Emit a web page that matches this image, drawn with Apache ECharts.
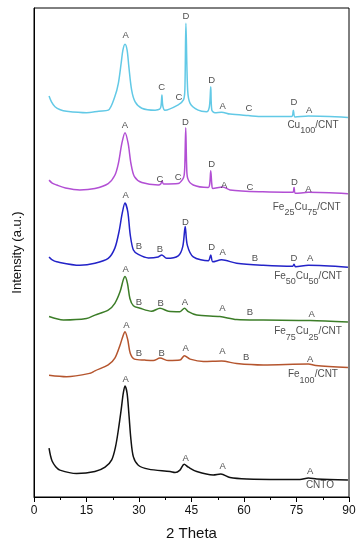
<!DOCTYPE html>
<html>
<head>
<meta charset="utf-8">
<script src="https://cdn.jsdelivr.net/npm/echarts@6/dist/echarts.min.js"></script>
<style>
html,body{margin:0;padding:0;background:#fff;}
#c{width:364px;height:550px;}
</style>
</head>
<body>
<div id="c"></div>
<script>
// ---- data (2θ in degrees, intensity in arbitrary units, curves offset as in the figure) ----
const cu100 = [[4.3,82.0],[5.0,80.8],[6.0,79.8],[7.5,79.2],[9.3,78.9],[15,78.6],[18.5,78.9],[21.2,79.1],[23.1,81.9],[24.1,84.6],[24.9,88.7],[25.4,91.4],[26.0,92.6],[26.6,91.4],[27.1,88.0],[27.9,83.2],[28.9,80.8],[30.8,79.5],[34.6,79.1],[35.9,79.3],[36.3,80.0],[36.55,82.2],[36.8,80.0],[37.4,79.1],[41.2,80.2],[42.7,81.2],[43.1,83.2],[43.4,96.9],[43.9,83.2],[44.6,80.5],[46.9,79.1],[49.3,78.8],[50.1,79.8],[50.5,83.9],[50.8,79.1],[51.7,78.6],[53.6,78.7],[56,78.3],[61.2,78.0],[65.4,77.8],[73.6,77.8],[74.1,79.1],[74.6,77.7],[78.4,77.9],[89.7,77.6]];
const fe25cu75 = [[4.3,64.8],[5.2,64.2],[6.5,63.8],[9,63.2],[13.1,62.8],[17.4,63.1],[21.2,64.1],[23.1,65.8],[24.1,68.2],[25.1,72.3],[26.0,74.5],[26.9,72.3],[27.7,68.2],[28.7,65.5],[30.8,64.3],[35.5,63.8],[36.2,64.0],[36.6,64.6],[37.0,64.0],[41.2,64.1],[42.5,65.0],[42.9,65.8],[43.1,68.0],[43.35,75.5],[43.6,68.0],[43.9,65.2],[45.5,63.8],[49.8,63.3],[50.2,64.0],[50.5,66.7],[50.8,64.0],[51.1,63.1],[53.9,63.4],[56,62.8],[65.4,62.4],[73.9,62.3],[74.3,63.3],[74.7,62.1],[78.4,62.3],[89.7,62.0]];
const fe50cu50 = [[4.3,49.1],[5.2,48.5],[6.5,48.1],[13.1,47.4],[17.4,47.8],[21.2,48.8],[23.1,50.9],[24.3,54.3],[25.2,58.0],[26.0,60.1],[26.8,58.3],[27.5,53.6],[28.4,50.5],[29.8,49.6],[32.7,48.9],[35.5,49.1],[36.5,49.5],[37.9,48.8],[41.2,49.3],[42.5,51.2],[43.2,55.3],[43.8,51.5],[45.5,49.1],[49.8,48.3],[50.5,49.5],[51.1,48.1],[53.6,48.5],[57.9,47.8],[65.5,47.4],[73.9,47.2],[74.3,47.6],[74.7,47.1],[78.4,47.4],[89.7,47.0]];
const fe75cu25 = [[4.3,36.9],[8.4,36.2],[15,36.5],[17.4,37.2],[21.2,38.2],[23.1,39.6],[24.6,42.0],[25.5,44.4],[26.0,45.1],[26.7,43.7],[27.4,40.6],[28.4,39.1],[30.3,38.6],[33.6,38.0],[36.0,38.6],[38.4,38.0],[41.7,37.9],[43.0,38.6],[44.1,37.9],[46.5,37.2],[53.1,36.9],[57.9,36.3],[65.5,36.2],[78.9,36.1],[89.7,35.8]];
const fe100 = [[4.3,24.9],[9.3,24.6],[16.0,25.3],[17.4,25.8],[21.2,27.0],[23.1,28.4],[24.6,31.1],[25.5,33.1],[26.0,33.8],[26.8,32.1],[27.5,29.4],[28.7,28.2],[31.7,28.0],[34.1,27.9],[36.0,28.4],[38.4,27.9],[41.7,28.0],[43.0,28.9],[44.6,28.2],[48.4,27.7],[53.6,27.8],[57.9,27.3],[65.5,27.0],[78.4,27.2],[80.5,26.9],[89.7,26.5]];
const cnto = [[4.3,10.0],[4.7,8.5],[5.2,7.3],[6.2,6.2],[7.4,5.5],[12.2,4.8],[17.4,5.2],[20.3,6.1],[22.2,7.6],[23.3,10.3],[24.1,13.7],[24.9,17.8],[25.5,21.2],[26.0,22.7],[26.6,21.2],[27.1,17.1],[27.7,11.7],[28.4,8.2],[29.8,6.5],[32.7,5.7],[38.9,5.2],[40.3,5.0],[41.7,5.5],[42.9,6.7],[44.1,6.1],[46.5,5.2],[51.2,4.5],[53.4,4.7],[56.0,4.0],[60.8,3.7],[70.3,3.6],[76.0,3.6],[78.4,3.9],[80.8,3.7],[89.7,3.5]];

// peak phase markers [2θ, intensity, letter]
const peaksCu100 = [[26.2,94.3,'A'],[36.5,83.8,'C'],[41.4,81.8,'C'],[43.4,98.2,'D'],[50.8,85.3,'D'],[53.9,79.8,'A'],[61.4,79.4,'C'],[74.3,80.6,'D'],[78.6,79.1,'A']];
const peaksFe25 = [[26.0,75.9,'A'],[36.0,65.0,'C'],[41.2,65.3,'C'],[43.3,76.6,'D'],[50.8,68.1,'D'],[54.3,63.8,'A'],[61.7,63.3,'C'],[74.4,64.4,'D'],[78.4,63.0,'A']];
const peaksFe50 = [[26.2,61.6,'A'],[30.0,51.2,'B'],[36.0,50.7,'B'],[43.3,56.2,'D'],[50.8,51.1,'D'],[53.9,50.0,'A'],[63.1,48.9,'B'],[74.3,48.9,'D'],[78.9,48.9,'A']];
const peaksFe75 = [[26.2,46.6,'A'],[30.0,39.7,'B'],[36.2,39.5,'B'],[43.1,39.7,'A'],[53.8,38.6,'A'],[61.7,37.8,'B'],[79.3,37.4,'A']];
const peaksFe100 = [[26.4,35.0,'A'],[30.0,29.4,'B'],[36.5,29.4,'B'],[43.3,30.4,'A'],[53.8,29.7,'A'],[60.6,28.5,'B'],[78.9,28.2,'A']];
const peaksCnto = [[26.2,24.1,'A'],[43.3,7.9,'A'],[53.9,6.3,'A'],[78.9,5.2,'A']];

// sample names [2θ, intensity, rich text]
const sampleNames = [
  [79.7,75.5,'{n|Cu}{s|100}{n|/CNT}'],
  [77.9,58.7,'{n|Fe}{s|25}{n|Cu}{s|75}{n|/CNT}'],
  [78.3,44.6,'{n|Fe}{s|50}{n|Cu}{s|50}{n|/CNT}'],
  [78.3,33.3,'{n|Fe}{s|75}{n|Cu}{s|25}{n|/CNT}'],
  [79.7,24.5,'{n|Fe}{s|100}{n|/CNT}'],
  [81.7,1.8,'{n|CNTO}']
];

const xTicks = [0,15,30,45,60,75,90];

const colors = ['#62c9e6','#b24fd4','#2323c8','#3c7d28','#b5552e','#111111'];
const curves = [cu100, fe25cu75, fe50cu50, fe75cu25, fe100, cnto];
const peakSets = [peaksCu100, peaksFe25, peaksFe50, peaksFe75, peaksFe100, peaksCnto];

const font = 'Liberation Sans, Arial, sans-serif';
const series = [];
curves.forEach((d, i) => {
  series.push({
    type: 'line', data: d, showSymbol: false, smooth: 0.3,
    lineStyle: {color: colors[i], width: 1.5}, z: 3, silent: true
  });
});
series.push({
  type: 'scatter', symbolSize: 0, z: 5, silent: true,
  data: peakSets.flat(),
  label: {show: true, position: 'inside', formatter: p => p.data[2], color: '#222', fontSize: 9.5, fontFamily: font}
});
series.push({
  type: 'scatter', symbolSize: 0, z: 5, silent: true,
  data: sampleNames,
  label: {show: true, position: 'inside', formatter: p => p.data[2], color: '#222',
    rich: {
      n: {fontSize: 10, fontFamily: font, color: '#222', lineHeight: 15, verticalAlign: 'top'},
      s: {fontSize: 9, fontFamily: font, color: '#222', lineHeight: 15, verticalAlign: 'bottom'}
    }}
});

const chart = echarts.init(document.getElementById('c'), null, {renderer: 'canvas'});
chart.setOption({
  animation: false,
  backgroundColor: '#fff',
  grid: {left: 34, right: 15, top: 8, bottom: 53, show: true, borderColor: '#000', borderWidth: 1},
  xAxis: {
    type: 'value', min: 0, max: 90, interval: 15,
    name: '2 Theta', nameLocation: 'middle', nameGap: 29,
    nameTextStyle: {fontSize: 15, fontFamily: font, color: '#111'},
    axisLine: {show: true, lineStyle: {color: '#000', width: 1}},
    axisTick: {show: true, length: 5, lineStyle: {color: '#000'}},
    minorTick: {show: true, splitNumber: 2, length: 3, lineStyle: {color: '#000'}},
    splitLine: {show: false},
    axisLabel: {fontSize: 12, fontFamily: font, color: '#111', margin: 8,
      formatter: v => xTicks.includes(v) ? String(v) : ''}
  },
  yAxis: {
    type: 'value', min: 0, max: 100,
    name: 'Intensity (a.u.)', nameLocation: 'middle', nameGap: 10,
    nameTextStyle: {fontSize: 13, fontFamily: font, color: '#111'},
    axisLine: {show: true, lineStyle: {color: '#000'}},
    axisTick: {show: false}, axisLabel: {show: false}, splitLine: {show: false}
  },
  series: series
});
</script>
</body>
</html>
